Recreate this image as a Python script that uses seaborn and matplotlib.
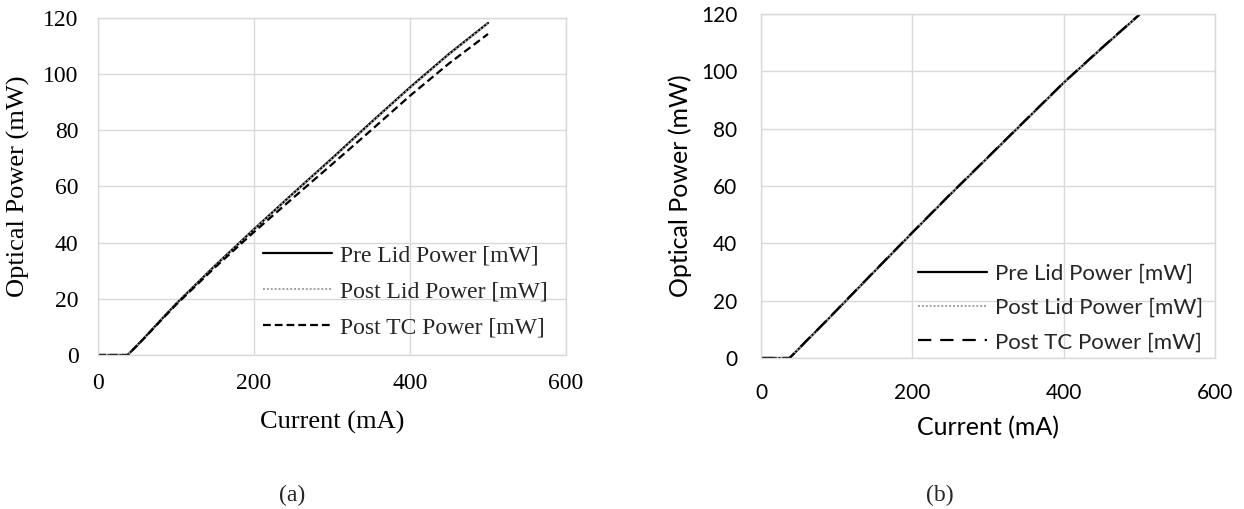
import numpy as np
import pandas as pd
import matplotlib
matplotlib.use("Agg")
import matplotlib.pyplot as plt
import seaborn as sns

# Current sweep (mA)
current = [0, 10, 20, 30, 38, 50, 60, 80, 100, 150, 200, 250, 300, 350, 400, 450, 500]

# Panel (a) optical power (mW)
a_pre_lid = [0, 0, 0, 0, 0, 3.4, 6.3, 12.3, 18.2, 31.8, 44.8, 57.5, 70.0, 82.8, 95.3, 107.2, 118.2]
a_post_lid = [0, 0, 0, 0, 0, 3.4, 6.3, 12.3, 18.2, 31.7, 44.7, 57.4, 69.8, 82.6, 95.1, 107.0, 118.1]
a_post_tc = [0, 0, 0, 0, 0, 3.3, 6.2, 12.1, 17.9, 31.2, 43.8, 55.9, 67.9, 80.0, 92.3, 103.8, 114.3]

# Panel (b) optical power (mW)
b_pre_lid = [0, 0, 0, 0, 0, 3.2, 5.9, 11.2, 16.6, 30.2, 43.7, 57.0, 70.0, 83.0, 96.0, 108.0, 119.7]
b_post_lid = [0, 0, 0, 0, 0, 3.2, 5.9, 11.2, 16.6, 30.2, 43.7, 57.0, 70.0, 83.0, 96.0, 108.0, 119.7]
b_post_tc = [0, 0, 0, 0, 0, 3.3, 6.0, 11.3, 16.7, 30.3, 43.8, 57.1, 70.1, 83.1, 96.1, 108.1, 119.8]

series_names = ["Pre Lid Power [mW]", "Post Lid Power [mW]", "Post TC Power [mW]"]
x_ticks = [0, 200, 400, 600]
y_ticks = [0, 20, 40, 60, 80, 100, 120]

sns.set_theme(style="whitegrid")
plt.rcParams["axes.edgecolor"] = "#d9d9d9"
plt.rcParams["grid.color"] = "#d9d9d9"

fig = plt.figure(figsize=(12.44, 5.09), dpi=100)
ax_a = fig.add_axes([0.0788, 0.3026, 0.3762, 0.6621])
ax_b = fig.add_axes([0.6117, 0.2967, 0.3650, 0.6758])


def draw_panel(ax, pre, post, tc, font, tick_size, label_size, legend_size,
               tc_dash, tick_pad, xlabel_y, ylabel_x, leg_anchor, leg_spacing, handle_len):
    sns.lineplot(x=current, y=pre, ax=ax, color="black", lw=1.6,
                 label=series_names[0])
    sns.lineplot(x=current, y=post, ax=ax, color="#a0a0a0", lw=1.4,
                 linestyle=(0, (1, 1)), label=series_names[1])
    sns.lineplot(x=current, y=tc, ax=ax, color="black", lw=1.6,
                 linestyle=(0, tc_dash), label=series_names[2])

    ax.set_xlim(0, 600)
    ax.set_ylim(0, 120)
    ax.set_xticks(x_ticks)
    ax.set_yticks(y_ticks)
    ax.grid(True, color="#d9d9d9", lw=1.0)
    for sp in ax.spines.values():
        sp.set_color("#d9d9d9")
        sp.set_linewidth(1.0)
    ax.tick_params(axis="both", length=0, labelsize=tick_size, colors="black")
    ax.tick_params(axis="x", pad=tick_pad[0])
    ax.tick_params(axis="y", pad=tick_pad[1])
    for lbl in ax.get_xticklabels() + ax.get_yticklabels():
        lbl.set_family(font)

    ax.set_xlabel("Current (mA)", family=font, fontsize=label_size, color="black")
    ax.set_ylabel("Optical Power (mW)", family=font, fontsize=label_size, color="black")
    ax.xaxis.set_label_coords(0.5, xlabel_y)
    ax.xaxis.label.set_va("center")
    ax.yaxis.set_label_coords(ylabel_x, 0.5)
    ax.yaxis.label.set_va("center")

    ax.legend(loc="upper left", bbox_to_anchor=leg_anchor, frameon=False,
              borderpad=0, borderaxespad=0, handlelength=handle_len,
              handletextpad=0.35, labelspacing=leg_spacing,
              prop={"family": font, "size": legend_size})


draw_panel(ax_a, a_pre_lid, a_post_lid, a_post_tc, "Liberation Serif",
           tick_size=17, label_size=19, legend_size=17, tc_dash=(3.5, 1.8),
           tick_pad=(13, 14), xlabel_y=-0.199, ylabel_x=-0.169,
           leg_anchor=(0.3526, 0.327), leg_spacing=0.61, handle_len=2.9)

draw_panel(ax_b, b_pre_lid, b_post_lid, b_post_tc, "Lato",
           tick_size=15, label_size=18, legend_size=16, tc_dash=(6, 4),
           tick_pad=(18, 17), xlabel_y=-0.203, ylabel_x=-0.178,
           leg_anchor=(0.346, 0.275), leg_spacing=0.65, handle_len=3.1)

fig.text(292 / 1244, 1 - 495 / 509, "(a)", family="Liberation Serif",
         fontsize=17, ha="center", va="center")
fig.text(940 / 1244, 1 - 495 / 509, "(b)", family="Liberation Serif",
         fontsize=17, ha="center", va="center")

fig.savefig("out.png", dpi=100)
